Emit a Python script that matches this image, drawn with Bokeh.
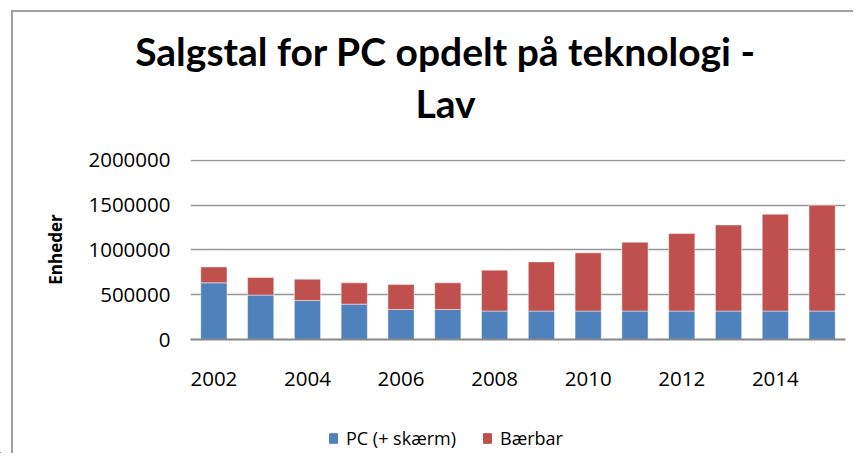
from bokeh.plotting import figure
from bokeh.layouts import column
from bokeh.models import (ColumnDataSource, FixedTicker, Legend, LegendItem, Label,
                          Range1d, BasicTickFormatter)
from bokeh.embed import file_html
from bokeh.resources import INLINE

years = [2002, 2003, 2004, 2005, 2006, 2007, 2008, 2009, 2010, 2011, 2012, 2013, 2014, 2015]
pc_skaerm = [633000, 496000, 435000, 395000, 335000, 335000, 318000, 318000, 318000, 318000, 318000, 318000, 318000, 318000]
baerbar = [178000, 196000, 239000, 238000, 279000, 298000, 457000, 549000, 650000, 769000, 865000, 962000, 1082000, 1182000]
x_ticks = [2002, 2004, 2006, 2008, 2010, 2012, 2014]
y_ticks = [0, 500000, 1000000, 1500000, 2000000]
series = ["PC (+ skærm)", "Bærbar"]
colors = ["#4F81BD", "#C0504D"]
title_lines = ["Salgstal for PC opdelt på teknologi -", "Lav"]
y_title = "Enheder"

W = 853
FONT = "Open Sans"
LINE = "linear-gradient(#a0a0a0,#a0a0a0)"
left_line = LINE + " 11px 0px / 2px 100% no-repeat"
top_line = LINE + " 11px 10px / 100% 2px no-repeat"


def blank_fig(h):
    f = figure(width=W, height=h, output_backend="svg", toolbar_location=None,
               x_range=Range1d(0, W), y_range=Range1d(0, h),
               x_axis_type=None, y_axis_type=None,
               min_border_left=0, min_border_right=0, min_border_top=0, min_border_bottom=0)
    f.grid.visible = False
    f.outline_line_color = None
    f.background_fill_alpha = 0
    f.border_fill_alpha = 0
    f.frame_align = False
    return f


# ---- title strip ----
pt = blank_fig(140)
pt.styles = {"background": LINE + " 11px 10px / 2px 100% no-repeat, " + top_line + ", white"}
for txt, yy in zip(title_lines, [90, 38]):
    pt.add_layout(Label(x=445, y=yy, x_units="screen", y_units="screen", text=txt,
                        text_align="center", text_baseline="alphabetic",
                        text_font="Lato", text_font_style="bold", text_font_size="39px",
                        text_color="black"))

# ---- main chart ----
src = ColumnDataSource(dict(year=years, pc=pc_skaerm, bb=baerbar))
p = figure(width=W, height=265, output_backend="svg", toolbar_location=None,
           x_range=Range1d(2001.5, 2015.5), y_range=Range1d(0, 2011000),
           min_border_left=190, min_border_right=8, min_border_top=19, min_border_bottom=66)
p.frame_align = False
p.outline_line_color = None
p.background_fill_color = "white"
p.border_fill_alpha = 0
p.styles = {"background": left_line + ", white"}

r = p.vbar_stack(["pc", "bb"], x="year", width=0.56, source=src, color=colors,
                 line_color="white", line_alpha=0.45, line_width=1)

p.xgrid.grid_line_color = None
p.ygrid.ticker = FixedTicker(ticks=y_ticks)
p.ygrid.grid_line_color = "#969696"
p.ygrid.grid_line_width = 1.6

p.yaxis.ticker = FixedTicker(ticks=y_ticks)
p.yaxis.formatter = BasicTickFormatter(use_scientific=False)
p.yaxis.axis_line_color = None
p.yaxis.major_tick_line_color = None
p.yaxis.minor_tick_line_color = None
p.yaxis.major_tick_out = 0
p.yaxis.major_label_standoff = 20
p.yaxis.major_label_text_font = FONT
p.yaxis.major_label_text_font_size = "20.5px"
p.yaxis.major_label_text_color = "black"
p.yaxis.axis_label = y_title
p.yaxis.axis_label_text_font = FONT
p.yaxis.axis_label_text_font_style = "bold"
p.yaxis.axis_label_text_font_size = "17px"
p.yaxis.axis_label_text_color = "black"
p.yaxis.axis_label_standoff = 18

p.xaxis.ticker = FixedTicker(ticks=x_ticks)
p.xaxis.axis_line_color = "#878787"
p.xaxis.axis_line_width = 2
p.xaxis.major_tick_line_color = None
p.xaxis.minor_tick_line_color = None
p.xaxis.major_tick_out = 0
p.xaxis.major_label_standoff = 32
p.xaxis.major_label_text_font = FONT
p.xaxis.major_label_text_font_size = "20.5px"
p.xaxis.major_label_text_color = "black"

# ---- legend strip ----
pl = blank_fig(48)
pl.styles = {"background": left_line + ", white"}
# off-view swatch renderers: they only supply the legend's colour keys
lsrc = ColumnDataSource(dict(x=[-100], top=[1]))
lr = [pl.vbar(x="x", top="top", width=1, source=lsrc, color=c) for c in colors]
legend = Legend(items=[LegendItem(label=series[i], renderers=[lr[i]]) for i in range(2)],
                location=(328, 3), orientation="horizontal",
                glyph_width=10, glyph_height=12, label_standoff=8, spacing=26,
                padding=0, margin=0, border_line_color=None, background_fill_alpha=0,
                label_text_font=FONT, label_text_font_size="18px", label_text_color="black")
pl.add_layout(legend, "center")

layout = column(pt, p, pl, spacing=0)
open("out.html", "w").write(file_html(layout, INLINE))
